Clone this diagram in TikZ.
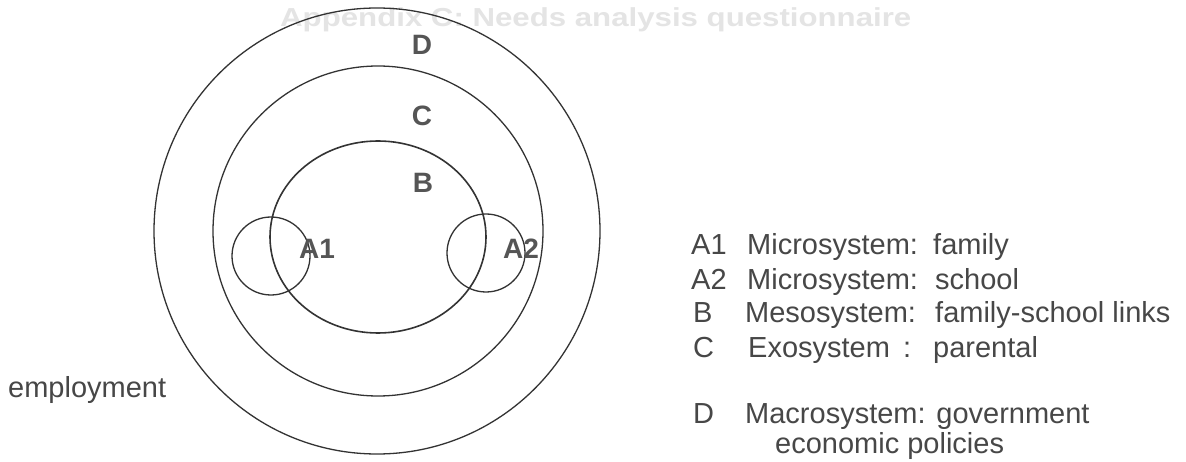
\documentclass[tikz,border=0pt]{standalone}
\usepackage{fontspec}
\setmainfont{Liberation Sans}
\newfontfamily\ghostfont[FakeStretch=1.2]{Liberation Sans Bold}
\definecolor{ink}{HTML}{474747}
\definecolor{lbl}{HTML}{555555}
\definecolor{linec}{HTML}{333333}
\definecolor{ghost}{HTML}{E4E4E4}
\tikzset{
  ring/.style={draw=linec, line width=1.3pt},
  tag/.style={inner sep=0pt, text=lbl, font=\fontsize{28}{30}\selectfont\bfseries},
  leg/.style={inner sep=0pt, anchor=base west, text=ink, font=\fontsize{29}{34}\selectfont},
  ghosttext/.style={inner sep=0pt, anchor=base west, text=ghost, font=\ghostfont\fontsize{26}{30}\selectfont}
}
\begin{document}
\begin{tikzpicture}[x=1pt,y=-1pt]
\useasboundingbox[fill=white] (0,0) rectangle (1186,462);
% faint show-through header
\node[ghosttext] (hdr) at (280,27) {Appendix C: Needs analysis questionnaire};
% circles
\draw[ring] (377,231) circle (223);
\draw[ring] (378,231) circle (165);
\draw[ring, line width=1.6pt] (378,237) ellipse [x radius=108, y radius=96];
\draw[ring] (271,256) circle (39);
\draw[ring] (486,253) circle (39);
% labels inside
\node[tag] (tD) at (422,45) {D};
\node[tag] (tC) at (422,116) {C};
\node[tag] (tB) at (423,183) {B};
\node[tag] (tA1) at (317,249) {A1};
\node[tag] (tA2) at (521,249) {A2};
% legend
\node[leg] (l1a) at (691,255) {A1};
\node[leg] (l1b) at (747,255) {Microsystem:};
\node[leg] (l1c) at (933,255) {family};
\node[leg] (l2a) at (691,290) {A2};
\node[leg] (l2b) at (747,290) {Microsystem:};
\node[leg] (l2c) at (935,290) {school};
\node[leg] (l3a) at (693,323) {B};
\node[leg] (l3b) at (745,323) {Mesosystem:};
\node[leg] (l3c) at (935,323) {family-school links};
\node[leg] (l4a) at (693,357) {C};
\node[leg] (l4b) at (748,357) {Exosystem};
\node[leg] (l4c) at (903,357) {:};
\node[leg] (l4d) at (933,357) {parental};
\node[leg] (l5a) at (693,423) {D};
\node[leg] (l5b) at (745,423) {Macrosystem: government};
\node[leg] (l6) at (775,453) {economic policies};
\node[leg] (emp) at (8,397) {employment};
\end{tikzpicture}
\end{document}
